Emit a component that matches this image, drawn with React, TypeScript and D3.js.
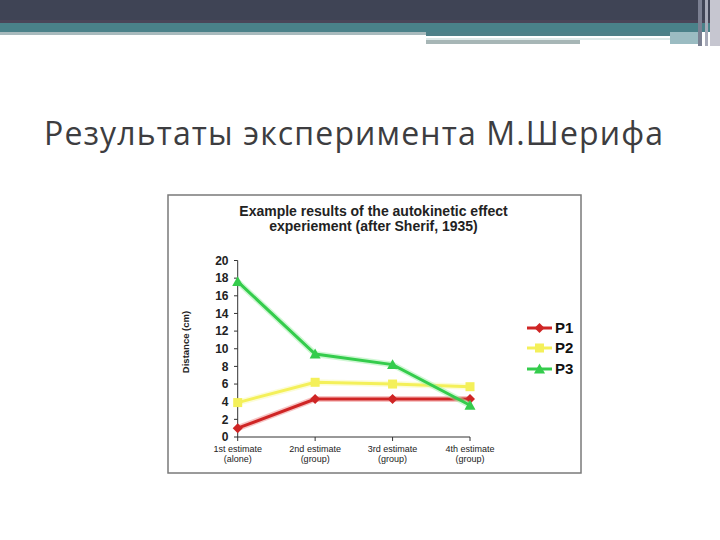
import * as d3 from 'd3';
import React from 'react';

const categories = ['1st estimate', '2nd estimate', '3rd estimate', '4th estimate'];
const subLabels = ['(alone)', '(group)', '(group)', '(group)'];
const seriesNames = ['P1', 'P2', 'P3'];
const p1 = [1.0, 4.3, 4.3, 4.3];
const p2 = [3.9, 6.2, 6.0, 5.7];
const p3 = [17.6, 9.4, 8.2, 3.6];
const yTicks = [0, 2, 4, 6, 8, 10, 12, 14, 16, 18, 20];

const colors = ['#cf2525', '#f4f05a', '#34cc4c'];
const glow = ['#f08a8a', '#fafab0', '#9ff0a8'];

function Marker({ kind, x, y, color }: { kind: number; x: number; y: number; color: string }) {
  if (kind === 0) {
    const s = 5;
    return <path d={`M${x},${y - s}L${x + s},${y}L${x},${y + s}L${x - s},${y}Z`} fill={color} />;
  }
  if (kind === 1) {
    return <rect x={x - 4.5} y={y - 4.5} width={9} height={9} fill={color} />;
  }
  const s = 5.5;
  return <path d={`M${x},${y - s}L${x + s},${y + s * 0.8}L${x - s},${y + s * 0.8}Z`} fill={color} />;
}

export default function App() {
  const x = d3.scalePoint<string>().domain(categories).range([237.7, 470]);
  const y = d3.scaleLinear().domain([0, 20]).range([437, 260.5]);
  const series = [p1, p2, p3];
  const line = d3
    .line<number>()
    .x((_, i) => x(categories[i]) as number)
    .y((d) => y(d));

  const legendY = [328, 348, 369];

  return (
    <svg width={720} height={540} style={{ position: 'absolute', left: 0, top: 0, background: '#fff' }}>
      {/* header bands */}
      <rect x={0} y={0} width={720} height={22} fill="#3f4455" />
      <rect x={0} y={20} width={720} height={3} fill="#4a4558" />
      <rect x={0} y={23} width={720} height={9} fill="#4a8189" />
      <rect x={0} y={32} width={426} height={3} fill="#a8babd" />
      <rect x={426} y={32} width={272} height={4} fill="#4e8088" />
      <rect x={426} y={38} width={244} height={2} fill="#dde8e8" />
      <rect x={426} y={40} width={154} height={4} fill="#a7b6b6" />
      <rect x={670} y={32} width={30} height={12} fill="#9bbcc2" />
      <rect x={698} y={0} width={4} height={46} fill="#7b8092" />
      <rect x={705} y={0} width={3} height={46} fill="#a7aab8" />
      <rect x={710} y={0} width={10} height={46} fill="#c6c6d0" />

      <text
        x={44}
        y={145}
        fontFamily="'Open Sans', sans-serif"
        fontSize={32}
        fill="#3d3d40"
        textLength={619}
        lengthAdjust="spacing"
      >
        Результаты эксперимента М.Шерифа
      </text>

      {/* chart frame */}
      <rect x={168} y={195} width={413} height={278} fill="#fff" stroke="#7a7a7a" strokeWidth={1.5} />

      <g fontFamily="'Liberation Sans', Arial, sans-serif" fontWeight="bold" fill="#222" textAnchor="middle">
        <text x={373.5} y={216} fontSize={14}>Example results of the autokinetic effect</text>
        <text x={373.5} y={231} fontSize={14}>experiement (after Sherif, 1935)</text>
      </g>

      {/* y axis */}
      <line x1={237.7} x2={237.7} y1={y(20)} y2={y(0)} stroke="#333" strokeWidth={1} />
      {yTicks.map((t) => (
        <g key={t}>
          <line x1={234} x2={237.7} y1={y(t)} y2={y(t)} stroke="#333" />
          <text
            x={228.5}
            y={y(t)}
            dy="0.35em"
            textAnchor="end"
            fontFamily="'Liberation Sans', Arial, sans-serif"
            fontWeight="bold"
            fontSize={12}
            fill="#222"
          >
            {t}
          </text>
        </g>
      ))}
      <text
        transform={`translate(188.5,342) rotate(-90)`}
        textAnchor="middle"
        fontFamily="'Liberation Sans', Arial, sans-serif"
        fontWeight="bold"
        fontSize={9.5}
        fill="#222"
      >
        Distance (cm)
      </text>

      {/* x axis */}
      <line x1={237.7} x2={470} y1={y(0)} y2={y(0)} stroke="#333" />
      {categories.map((c, i) => (
        <g key={c} fontFamily="'Liberation Sans', Arial, sans-serif" fontSize={9} fill="#222" textAnchor="middle">
          <line x1={x(c)} x2={x(c)} y1={y(0)} y2={y(0) + 4} stroke="#333" />
          <text x={x(c)} y={452}>{c}</text>
          <text x={x(c)} y={462}>{subLabels[i]}</text>
        </g>
      ))}

      {/* series */}
      {series.map((s, k) => (
        <g key={seriesNames[k]}>
          <path d={line(s) as string} fill="none" stroke={glow[k]} strokeWidth={6} strokeOpacity={0.5} />
          <path d={line(s) as string} fill="none" stroke={colors[k]} strokeWidth={3} />
          {s.map((v, i) => (
            <Marker key={i} kind={k} x={x(categories[i]) as number} y={y(v)} color={colors[k]} />
          ))}
        </g>
      ))}

      {/* legend */}
      {seriesNames.map((n, k) => (
        <g key={n}>
          <line x1={527} x2={552} y1={legendY[k]} y2={legendY[k]} stroke={colors[k]} strokeWidth={3} />
          <Marker kind={k} x={539.5} y={legendY[k]} color={colors[k]} />
          <text
            x={555}
            y={legendY[k]}
            dy="0.36em"
            fontFamily="'Liberation Sans', Arial, sans-serif"
            fontWeight="bold"
            fontSize={15}
            fill="#111"
          >
            {n}
          </text>
        </g>
      ))}
    </svg>
  );
}
